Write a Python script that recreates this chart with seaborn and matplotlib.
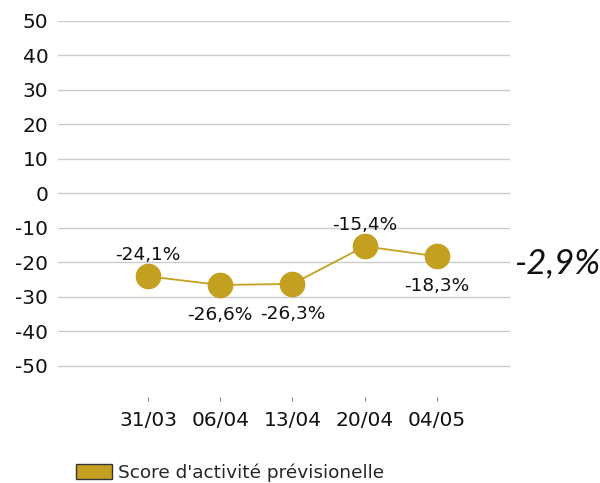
import matplotlib
matplotlib.use("Agg")
import matplotlib.pyplot as plt
import matplotlib.patches as mpatches
import seaborn as sns
import pandas as pd

categories = ["31/03", "06/04", "13/04", "20/04", "04/05"]
values = [-24.1, -26.6, -26.3, -15.4, -18.3]
labels = ["-24,1%", "-26,6%", "-26,3%", "-15,4%", "-18,3%"]
label_above = [True, False, False, True, False]
y_ticks = [-50, -40, -30, -20, -10, 0, 10, 20, 30, 40, 50]
series_name = "Score d'activité prévisionelle"
side_note = "-2,9%"

gold = "#C4A020"

sns.set_theme(style="white")
plt.rcParams['font.family'] = ['DejaVu Sans']

fig = plt.figure(figsize=(6.0, 4.83), dpi=100)
ax = fig.add_axes([58/600, 1-396.7/483, (510-58)/600, (396.7-20.8)/483])

df = pd.DataFrame({"x": list(range(len(categories))), "y": values})
sns.lineplot(data=df, x="x", y="y", ax=ax, color=gold, linewidth=1.3,
             marker="o", markersize=18.5, markeredgewidth=0, zorder=3)

for i, (v, lab, up) in enumerate(zip(values, labels, label_above)):
    ax.annotate(lab, (i, v), xytext=(0, 15.5 if up else -21.5), textcoords="offset points",
                ha="center", va="center", fontsize=13.3,
                family=["DejaVu Sans"], color="#111111")

ax.set_ylim(-59, 50)
ax.set_xlim(-1.245, 5.01)
ax.set_yticks(y_ticks)
ax.set_yticklabels([str(t) for t in y_ticks], fontsize=14.5, color="#111111")
ax.set_xticks(range(len(categories)))
ax.set_xticklabels(categories, fontsize=14.5, color="#111111")
ax.tick_params(axis="x", length=3, width=0.8, color="#888888", pad=7, direction="out", bottom=True)
ax.tick_params(axis="y", length=0, pad=7)
for t in y_ticks:
    ax.axhline(t, color="#cccccc", linewidth=1, zorder=0)
for s in ax.spines.values():
    s.set_visible(False)
ax.set_xlabel("")
ax.set_ylabel("")
ax.grid(False)

fig.text(557/600, 1-263/483, side_note, fontsize=25, style="italic",
         family=["Lato", "DejaVu Sans"], ha="center", va="center", color="#111111")

handle = mpatches.Patch(facecolor=gold, edgecolor="#333333", linewidth=1, label=series_name)
fig.legend(handles=[handle], loc="lower left", bbox_to_anchor=(76/600, 0.002),
           frameon=False, handlelength=1.95, handleheight=0.81,
           handletextpad=0.3, borderaxespad=0.0, borderpad=0.0,
           prop={"family": ["DejaVu Sans"], "size": 13.3})

fig.savefig("out.png", dpi=100)
